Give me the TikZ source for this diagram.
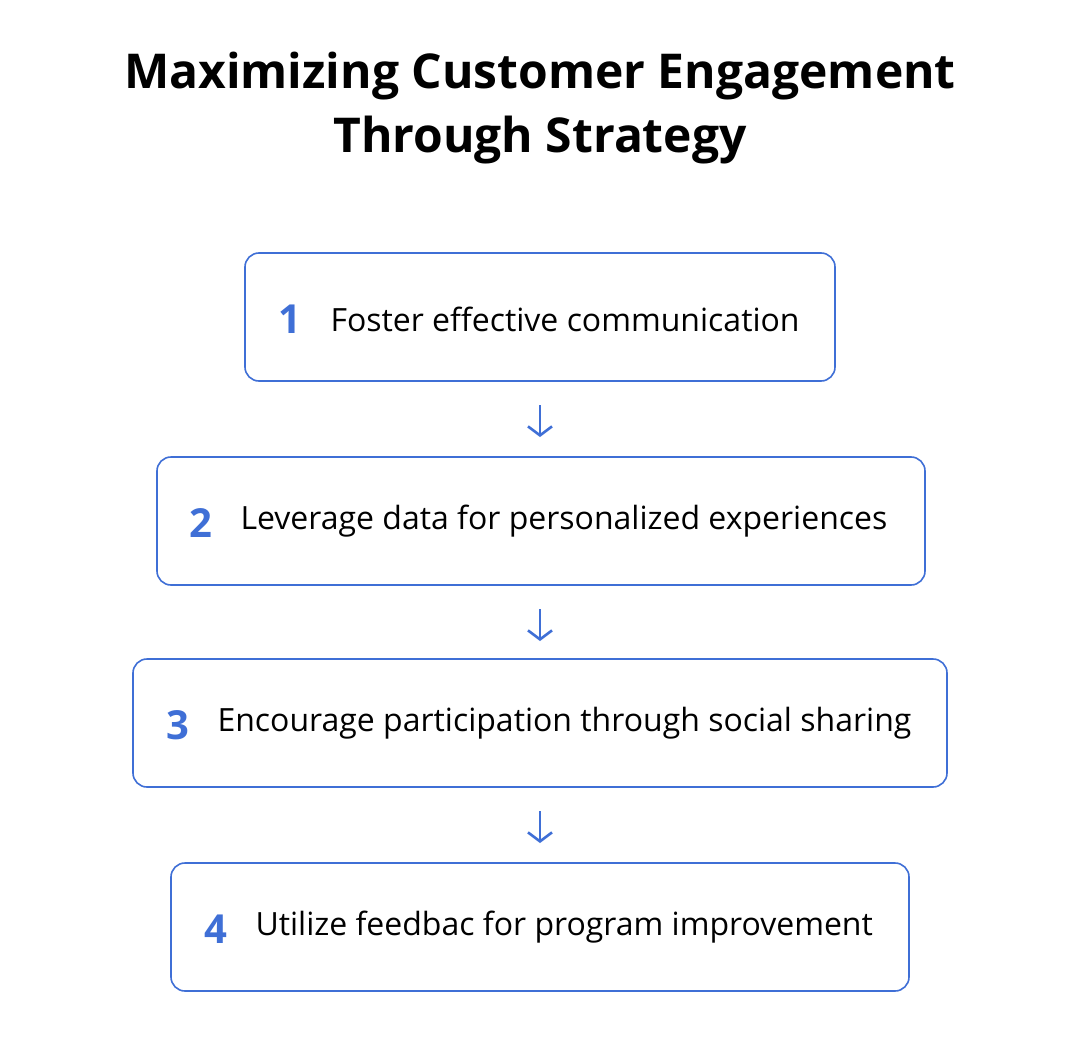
\documentclass[tikz,border=0pt]{standalone}
\usepackage{fontspec}
\setmainfont{Open Sans}
\usetikzlibrary{positioning}
\definecolor{stepblue}{HTML}{3F6FD6}
\tikzset{
  stepbox/.style={draw=stepblue, line width=1.6pt, rounded corners=14pt, fill=white},
  stepnum/.style={text=stepblue, font=\fontsize{40}{44}\selectfont\bfseries, anchor=center},
  steptext/.style={font=\fontsize{32}{38}\selectfont, anchor=west},
  steparrow/.style={draw=stepblue, line width=2.6pt, ->, >={Straight Barb[length=9pt,width=24pt]}}
}
\usetikzlibrary{arrows.meta}
\begin{document}
\begin{tikzpicture}[x=1pt,y=-1pt]
  \useasboundingbox[fill=white] (0,0) rectangle (1080,1052);
  \node[font=\fontsize{48}{64}\selectfont\bfseries, align=center] (title) at (540,108)
    {Maximizing Customer Engagement\\Through Strategy};
  % boxes
  \draw[stepbox] (245,253) rectangle (835,381);
  \node[stepnum] (n1) at (290,319) {1};
  \node[steptext] (t1) at (327,319) {Foster effective communication};
  \draw[stepbox] (157,457) rectangle (925,585);
  \node[stepnum] (n2) at (201,523) {2};
  \node[steptext] (t2) at (237,521) {Leverage data for personalized experiences};
  \draw[stepbox] (133,659) rectangle (947,787);
  \node[stepnum] (n3) at (178,725) {3};
  \node[steptext] (t3) at (214,723) {Encourage participation through social sharing};
  \draw[stepbox] (171,863) rectangle (909,991);
  \node[stepnum] (n4) at (216,929) {4};
  \node[steptext] (t4) at (252,927) {Utilize feedbac for program improvement};
  % arrows
  \coordinate (a1) at (540,405); \coordinate (b1) at (540,437);
  \coordinate (a2) at (540,609); \coordinate (b2) at (540,641);
  \coordinate (a3) at (540,811); \coordinate (b3) at (540,843);
  \foreach \i in {1,2,3} \draw[steparrow] (a\i) -- (b\i);
\end{tikzpicture}
\end{document}
